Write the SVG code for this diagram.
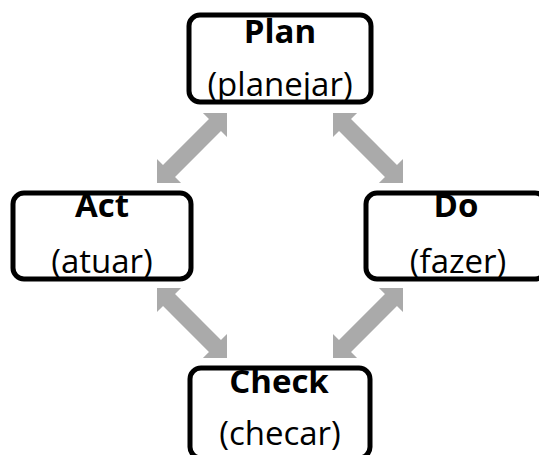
<svg xmlns="http://www.w3.org/2000/svg" width="539" height="455" viewBox="0 0 539 455">
  <style>
    .box { fill: #ffffff; stroke: #000000; stroke-width: 5; }
    .title { font-family: "Open Sans", "Liberation Sans", sans-serif; font-weight: bold; font-size: 33px; fill: #000000; text-anchor: middle; }
    .sub { font-family: "Open Sans", "Liberation Sans", sans-serif; font-size: 33px; fill: #000000; text-anchor: middle; }
    .arrow { fill: #aaaaaa; }
  </style>
  <defs>
    <!-- double-headed block arrow, centred on the origin, lying along x -->
    <polygon id="dbl" points="-49.5,0 -32.5,-17 -32.5,-8.5 32.5,-8.5 32.5,-17 49.5,0 32.5,17 32.5,8.5 -32.5,8.5 -32.5,17"/>
  </defs>
  <rect width="539" height="455" fill="#ffffff"/>

  <g id="connectors" class="arrow">
    <use href="#dbl" transform="translate(192,148) rotate(-45)"/>
    <use href="#dbl" transform="translate(368,148) rotate(45)"/>
    <use href="#dbl" transform="translate(192,323) rotate(45)"/>
    <use href="#dbl" transform="translate(368,323) rotate(-45)"/>
  </g>

  <g id="plan">
    <rect class="box" x="189" y="15" width="182" height="87" rx="11"/>
    <text class="title" x="280" y="43">Plan</text>
    <text class="sub" x="280" y="96">(planejar)</text>
  </g>

  <g id="act">
    <rect class="box" x="13" y="193" width="178" height="86" rx="11"/>
    <text class="title" x="102" y="217">Act</text>
    <text class="sub" x="102" y="273">(atuar)</text>
  </g>

  <g id="do">
    <rect class="box" x="366" y="193" width="180" height="86" rx="11"/>
    <text class="title" x="456" y="217">Do</text>
    <text class="sub" x="458" y="273">(fazer)</text>
  </g>

  <g id="check">
    <rect class="box" x="190" y="368" width="180" height="90" rx="11"/>
    <text class="title" x="279" y="393">Check</text>
    <text class="sub" x="280" y="445">(checar)</text>
  </g>
</svg>
